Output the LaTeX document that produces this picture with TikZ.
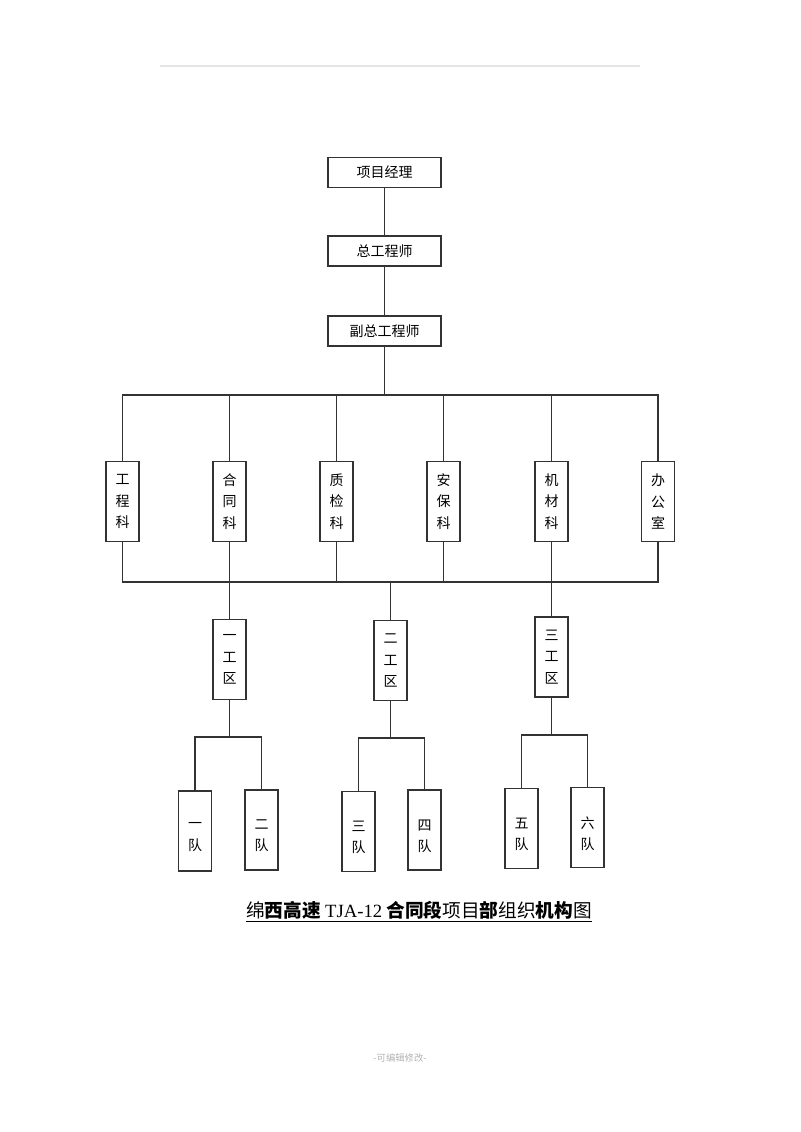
\documentclass[tikz,border=0pt]{standalone}
\usepackage{fontspec}
\setmainfont{Noto Sans CJK SC}
\newfontfamily\latinfont{Liberation Serif}

\begin{document}
\begin{tikzpicture}[x=0.75pt, y=-0.75pt, line width=0.9pt, draw=black!80,
            every node/.style={font=\fontsize{10.5}{16}\selectfont},
            headbox/.style={draw, minimum width=84.75pt, minimum height=22.5pt, inner sep=0pt},
            unitbox/.style={draw, minimum width=24.75pt, minimum height=60pt, inner sep=0pt, align=center},
            lowtext/.style={align=center, yshift=-4.5pt, inner sep=0pt}]
            \useasboundingbox (0,0) rectangle (800,1132);
            \draw[gray!20, line width=0.8pt] (160,66) -- (640,66);

            \node[headbox] (pm) at (384.5, 172.5) {项目经理};
            \node[headbox] (zg) at (384.5, 251) {总工程师};
            \node[headbox] (fzg) at (384.5, 331) {副总工程师};

            \node[unitbox] (gck) at (122.5, 501.5) {工\\程\\科};
            \node[unitbox] (htk) at (229.5, 501.5) {合\\同\\科};
            \node[unitbox] (zjk) at (336.5, 501.5) {质\\检\\科};
            \node[unitbox] (abk) at (443.5, 501.5) {安\\保\\科};
            \node[unitbox] (jck) at (551.5, 501.5) {机\\材\\科};
            \node[unitbox] (bgs) at (658, 501.5) {办\\公\\室};

            \node[unitbox] (yq) at (229.5, 659.5) {一\\工\\区};
            \node[unitbox] (eq) at (390.5, 660.5) {二\\工\\区};
            \node[unitbox] (sq) at (551.5, 657) {三\\工\\区};

            \node[unitbox, label={[lowtext]center:一\\队}] (yd) at (195, 831) {};
            \node[unitbox, label={[lowtext]center:二\\队}] (ed) at (261.5, 830) {};
            \node[unitbox, label={[lowtext]center:三\\队}] (sd) at (358.5, 831.5) {};
            \node[unitbox, label={[lowtext]center:四\\队}] (sid) at (424.5, 830) {};
            \node[unitbox, label={[lowtext]center:五\\队}] (wd) at (521.5, 828.5) {};
            \node[unitbox, label={[lowtext]center:六\\队}] (ld) at (587.5, 827.5) {};

            \coordinate (top) at (384.5, 395);
            \coordinate (mid) at (390, 582);
            \coordinate (br1) at (229.5, 737);
            \coordinate (br2) at (390.5, 738);
            \coordinate (br3) at (551.5, 735);

            \draw (pm) -- (zg);
            \draw (zg) -- (fzg);
            \draw (fzg) -- (top);
            \draw (gck.north) |- (top) -| (bgs.north);
            \draw (htk) -- (htk |- top);
            \draw (zjk) -- (zjk |- top);
            \draw (abk) -- (abk |- top);
            \draw (jck) -- (jck |- top);

            \draw (gck.south) |- (mid) -| (bgs.south);
            \draw (htk) -- (htk |- mid);
            \draw (zjk) -- (zjk |- mid);
            \draw (abk) -- (abk |- mid);
            \draw (jck) -- (jck |- mid);
            \draw (yq) -- (yq |- mid);
            \draw (eq) -- (eq |- mid);
            \draw (sq) -- (sq |- mid);

            \draw (yq) -- (br1);
            \draw (yd.north) |- (br1) -| (ed.north);
            \draw (eq) -- (br2);
            \draw (sd.north) |- (br2) -| (sid.north);
            \draw (sq) -- (br3);
            \draw (wd.north) |- (br3) -| (ld.north);

            \node[font=\fontsize{14}{16}\selectfont] (title) at (419, 912)
                {\underline{绵\textbf{西高速} {\latinfont TJA-12} \textbf{合同段}项目\textbf{部}组织\textbf{机构}图}};
            \node[text=gray!60, font=\fontsize{7}{8}\selectfont] (foot) at (400, 1058) {-可编辑修改-};
        \end{tikzpicture}
\end{document}
